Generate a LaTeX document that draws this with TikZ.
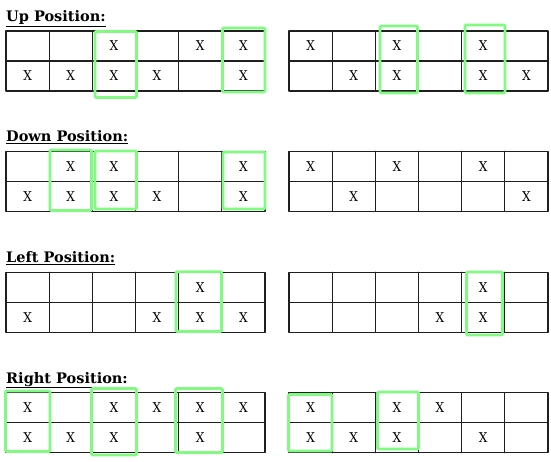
\documentclass[tikz,border=0pt]{standalone}
\usepackage{fontspec}
\setmainfont{DejaVu Serif Condensed}
\newfontfamily\titlefont{DejaVu Serif}
\definecolor{hlgreen}{RGB}{128,250,128}
\begin{document}
\begin{tikzpicture}[x=1pt,y=-1pt,line join=round,line cap=round,
    gridline/.style={line width=1.2pt,draw=black!88},
    hl/.style={line width=2.8pt,draw=hlgreen,rounded corners=1pt},
    xmark/.style={inner sep=0pt,font=\fontsize{13.5}{13.5}\selectfont},
    title/.style={anchor=base west,inner sep=0pt,font=\titlefont\fontsize{14.5}{14.5}\selectfont\bfseries}]
    \useasboundingbox (0,0) rectangle (551,462);
    % titles
    \node[title] (upT) at (6,22) {\underline{Up Position:}};
    \node[title] (downT) at (6,141.5) {\underline{Down Position:}};
    \node[title] (leftT) at (6,262.5) {\underline{Left Position:}};
    \node[title] (rightT) at (6,383) {\underline{Right Position:}};
    % grids: left edge / top edge
    \foreach \gx/\gy in {6/31,289/31,6/151.3,289/151.3,6/272.3,289/272.3,6/392.7,289/392.7}{
        \draw[gridline] (\gx,\gy) rectangle ({\gx+6*43.15},{\gy+60});
        \draw[gridline] (\gx,{\gy+30})--({\gx+6*43.15},{\gy+30});
        \foreach \c in {1,...,5}
            \draw[gridline] ({\gx+\c*43.15},\gy)--({\gx+\c*43.15},{\gy+60});
    }
    % marks: column/row
    \foreach \c/\r in {3/1,5/1,6/1,1/2,2/2,3/2,4/2,6/2}
        \node[xmark] (upL-\c-\r) at ({6+(\c-0.5)*43.15},{31+(\r-0.5)*30}) {X};
    \foreach \c/\r in {1/1,3/1,5/1,2/2,3/2,5/2,6/2}
        \node[xmark] (upR-\c-\r) at ({289+(\c-0.5)*43.15},{31+(\r-0.5)*30}) {X};
    \foreach \c/\r in {2/1,3/1,6/1,1/2,2/2,3/2,4/2,6/2}
        \node[xmark] (downL-\c-\r) at ({6+(\c-0.5)*43.15},{151.3+(\r-0.5)*30}) {X};
    \foreach \c/\r in {1/1,3/1,5/1,2/2,6/2}
        \node[xmark] (downR-\c-\r) at ({289+(\c-0.5)*43.15},{151.3+(\r-0.5)*30}) {X};
    \foreach \c/\r in {5/1,1/2,4/2,5/2,6/2}
        \node[xmark] (leftL-\c-\r) at ({6+(\c-0.5)*43.15},{272.3+(\r-0.5)*30}) {X};
    \foreach \c/\r in {5/1,4/2,5/2}
        \node[xmark] (leftR-\c-\r) at ({289+(\c-0.5)*43.15},{272.3+(\r-0.5)*30}) {X};
    \foreach \c/\r in {1/1,3/1,4/1,5/1,6/1,1/2,2/2,3/2,5/2}
        \node[xmark] (rightL-\c-\r) at ({6+(\c-0.5)*43.15},{392.7+(\r-0.5)*30}) {X};
    \foreach \c/\r in {1/1,3/1,4/1,1/2,2/2,3/2,5/2}
        \node[xmark] (rightR-\c-\r) at ({289+(\c-0.5)*43.15},{392.7+(\r-0.5)*30}) {X};
    % green boxes
    \draw[hl] (95,31.5) rectangle (136.5,97.5);
    \draw[hl] (222.5,28) rectangle (265,92);
    \draw[hl] (380,26) rectangle (417.5,93);
    \draw[hl] (465,25) rectangle (505,93);
    \draw[hl] (50,150) rectangle (91.5,210.5);
    \draw[hl] (95,151) rectangle (136.5,209);
    \draw[hl] (223,152) rectangle (265,209);
    \draw[hl] (176,271.7) rectangle (221.5,331.5);
    \draw[hl] (466.5,272) rectangle (502.5,335);
    \draw[hl] (5.5,391) rectangle (50,451.5);
    \draw[hl] (91.5,388.5) rectangle (136.5,455);
    \draw[hl] (175.5,388.5) rectangle (222.5,452.5);
    \draw[hl] (288.5,394.5) rectangle (332,451);
    \draw[hl] (377.5,392) rectangle (418.5,449);
\end{tikzpicture}
\end{document}
